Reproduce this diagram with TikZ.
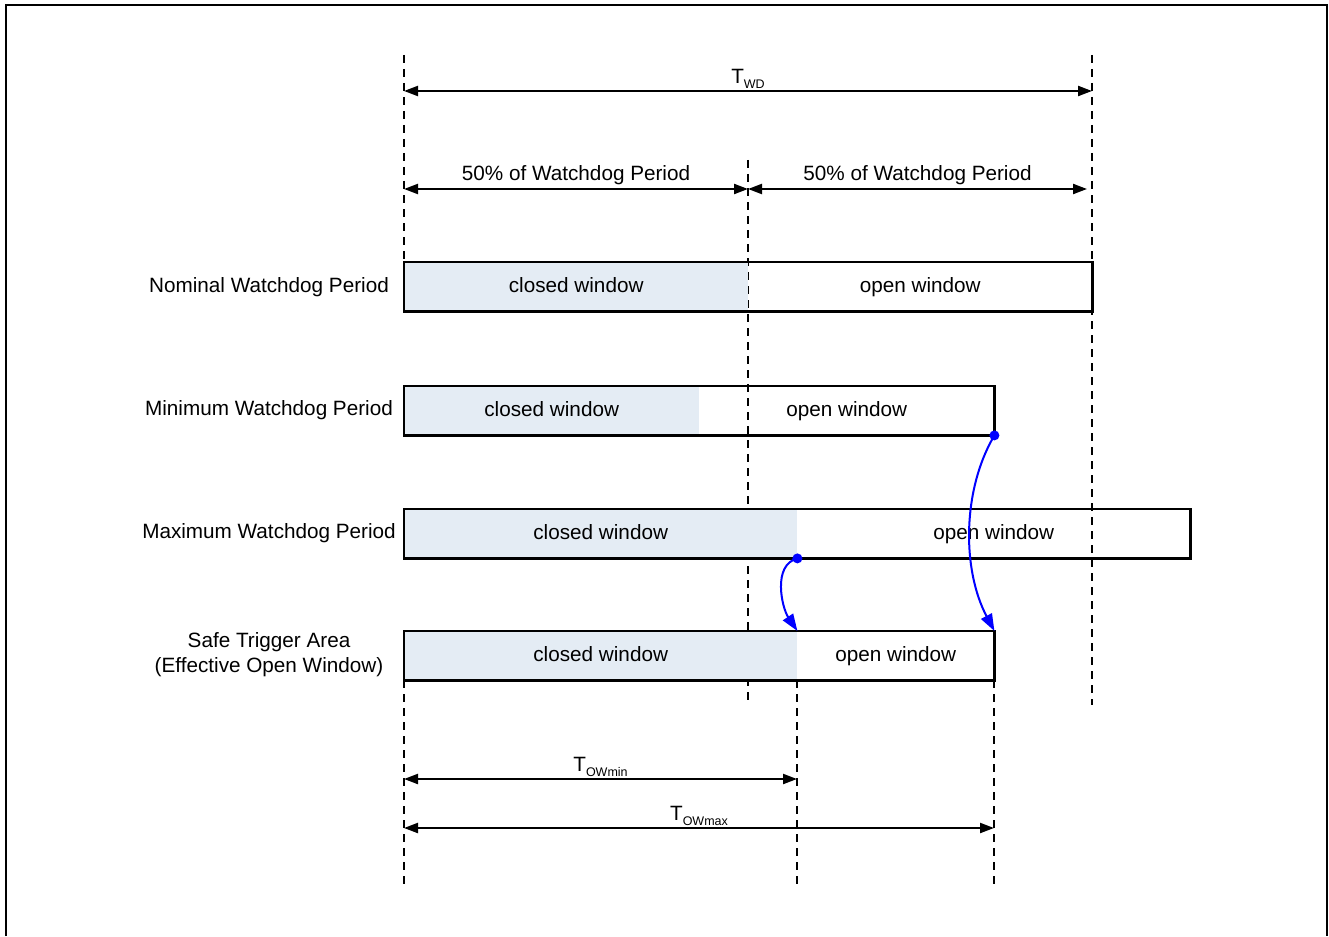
\documentclass[tikz,border=0pt]{standalone}
\usepackage{fontspec}
\setmainfont{Liberation Sans}
\usepackage{xcolor}
\usetikzlibrary{arrows.meta,positioning,calc}

\definecolor{winblue}{RGB}{228,236,244}
\newcommand{\tsub}[1]{\raisebox{-5pt}{\fontsize{12.5}{12.5}\selectfont #1}}

\tikzset{
  lbl/.style={font=\fontsize{20.7}{25}\selectfont, inner sep=0pt, text height=15pt, text depth=4pt},
  win/.style={lbl, minimum height=49pt, anchor=north west},
  closedwin/.style={win, fill=winblue},
  openwin/.style={win},
  boxline/.style={line width=2.2pt},
  guide/.style={line width=2.5pt, dash pattern=on 8pt off 6pt},
  dimarr/.style={line width=2.2pt, {Triangle[length=14pt,width=10pt]}-{Triangle[length=14pt,width=10pt]}},
  jump/.style={blue, line width=2pt, -{Triangle[length=17pt,width=12pt]}},
}

\begin{document}
\begin{tikzpicture}[x=1pt,y=-1pt]
  \useasboundingbox (0,0) rectangle (1329,936);
  \draw[line width=1.8pt] (6,936) -- (6,5) -- (1327,5) -- (1327,936);

  % guide lines
  \coordinate (s0) at (404,55);  \coordinate (s1) at (404,262);
  \coordinate (h0) at (748,160); \coordinate (h1) at (748,705);
  \coordinate (e0) at (1092,55); \coordinate (e1) at (1092,705);
  \coordinate (b0) at (404,680); \coordinate (b1) at (404,888);
  \coordinate (m0) at (797,680); \coordinate (m1) at (797,888);
  \coordinate (x0) at (994,680); \coordinate (x1) at (994,888);
  \draw[guide] (s0) -- (s1);
  \draw[guide] (h0) -- (h1);
  \draw[guide] (e0) -- (e1);
  \draw[guide] (b0) -- (b1);
  \draw[guide] (m0) -- (m1);
  \draw[guide] (x0) -- (x1);

  % windows
  \node[closedwin, minimum width=344pt] (nomC) at (404,262) {closed window};
  \node[openwin, minimum width=344pt] (nomO) at (748,262) {open window};
  \node[closedwin, minimum width=295pt] (minC) at (404,386) {closed window};
  \node[openwin, minimum width=295pt] (minO) at (699,386) {open window};
  \node[closedwin, minimum width=393pt] (maxC) at (404,509) {closed window};
  \node[openwin, minimum width=393pt] (maxO) at (797,509) {open window};
  \node[closedwin, minimum width=393pt] (safC) at (404,631) {closed window};
  \node[openwin, minimum width=197pt] (safO) at (797,631) {open window};
  \draw[boxline] (nomC.north west) rectangle (nomO.south east);
  \draw[boxline] (minC.north west) rectangle (minO.south east);
  \draw[boxline] (maxC.north west) rectangle (maxO.south east);
  \draw[boxline] (safC.north west) rectangle (safO.south east);

  % row labels
  \node[lbl] (nomL) at (269,287) {Nominal Watchdog Period};
  \node[lbl] (minL) at (269,410) {Minimum Watchdog Period};
  \node[lbl] (maxL) at (269,533) {Maximum Watchdog Period};
  \node[lbl, align=center, text height=, text depth=] (safL) at (269,655) {Safe Trigger Area\\(Effective Open Window)};

  % dimensions
  \coordinate (twdL) at (404,91);  \coordinate (twdR) at (1092,91);
  \coordinate (hfaL) at (404,189); \coordinate (hfaR) at (748,189);
  \coordinate (hfbL) at (748,189); \coordinate (hfbR) at (1087,189);
  \coordinate (owaL) at (404,779); \coordinate (owaR) at (797,779);
  \coordinate (owbL) at (404,828); \coordinate (owbR) at (994,828);
  \draw[dimarr] (twdL) -- (twdR) node[lbl, midway, above=2pt] (twd) {T\tsub{WD}};
  \draw[dimarr] (hfaL) -- (hfaR) node[lbl, midway, above=3pt] (hfa) {50\% of Watchdog Period};
  \draw[dimarr] (hfbL) -- (hfbR) node[lbl, midway, above=3pt] (hfb) {50\% of Watchdog Period};
  \draw[dimarr] (owaL) -- (owaR) node[lbl, midway, above=2pt] (owa) {T\tsub{OWmin}};
  \draw[dimarr] (owbL) -- (owbR) node[lbl, midway, above=2pt] (owb) {T\tsub{OWmax}};

  % shifts
  \fill[blue] (minO.south east) circle (5pt);
  \fill[blue] (maxC.south east) circle (5pt);
  \draw[jump] (minO.south east) .. controls (962,490) and (962,570) .. (safO.north east);
  \draw[jump] (maxC.south east) .. controls (772,565) and (782,608) .. (safC.north east);
\end{tikzpicture}
\end{document}
